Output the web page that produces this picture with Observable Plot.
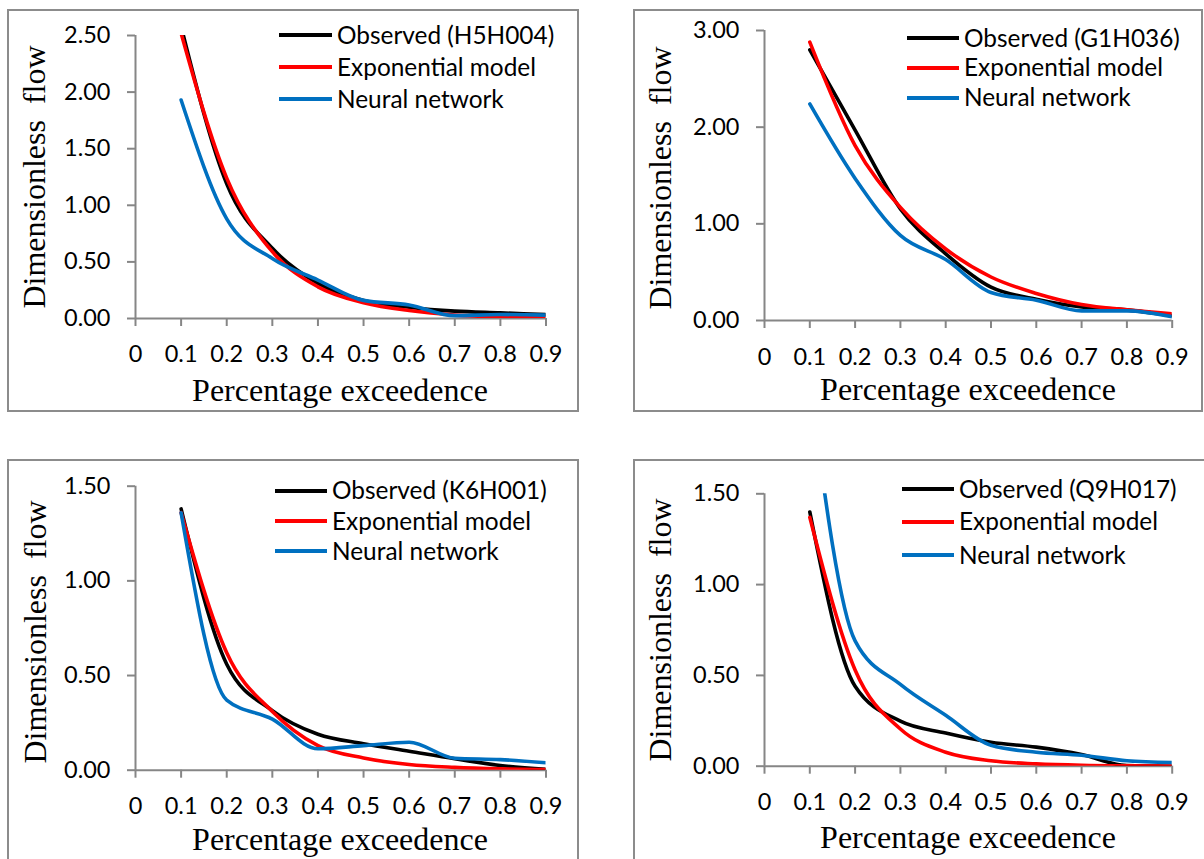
<!DOCTYPE html>
<html><head><meta charset="utf-8">
<script src="https://cdn.jsdelivr.net/npm/d3@7"></script>
<script src="https://cdn.jsdelivr.net/npm/@observablehq/plot@0.6"></script>
<style>
html,body{margin:0;padding:0;background:#fff;}
#page{position:relative;width:1204px;height:859px;overflow:hidden;background:#fff;}
.panel{position:absolute;border:2px solid #8c8c8c;box-sizing:border-box;}
.wrap{position:absolute;}
.wrap svg{display:block;overflow:visible;}
.lrow{position:absolute;display:flex;align-items:center;height:30px;margin-top:-15px;white-space:nowrap;}
.lrow .sw{height:4px;}
.lrow span{font-family:Lato,"Open Sans",sans-serif;font-size:24.4px;line-height:1;margin-left:5px;color:#000;}
#titles{position:absolute;left:0;top:0;}
</style></head><body><div id="page"></div>
<script>
// ---------- data ----------
const xs = [0.1, 0.2, 0.3, 0.4, 0.5, 0.6, 0.7, 0.8, 0.9];
const xTicks = [0, 0.1, 0.2, 0.3, 0.4, 0.5, 0.6, 0.7, 0.8, 0.9];
const xTickLabels = ["0", "0.1", "0.2", "0.3", "0.4", "0.5", "0.6", "0.7", "0.8", "0.9"];
const seriesNames = ["Observed", "Exponential model", "Neural network"];
const stations = ["H5H004", "G1H036", "K6H001", "Q9H017"];

// H5H004
const obsH5H004 = [2.58, 1.19, 0.62, 0.31, 0.16, 0.10, 0.065, 0.05, 0.035];
const expH5H004 = [2.52, 1.24, 0.59, 0.28, 0.14, 0.07, 0.03, 0.015, 0.01];
const annH5H004 = [1.93, 0.88, 0.53, 0.34, 0.16, 0.12, 0.025, 0.035, 0.03];
// G1H036
const obsG1H036 = [2.80, 1.97, 1.155, 0.69, 0.345, 0.22, 0.14, 0.11, 0.05];
const expG1H036 = [2.88, 1.81, 1.17, 0.74, 0.45, 0.28, 0.165, 0.11, 0.07];
const annG1H036 = [2.24, 1.47, 0.88, 0.63, 0.29, 0.21, 0.10, 0.10, 0.04];
// K6H001
const obsK6H001 = [1.38, 0.56, 0.315, 0.19, 0.14, 0.10, 0.06, 0.025, 0.005];
const expK6H001 = [1.36, 0.62, 0.31, 0.13, 0.065, 0.03, 0.015, 0.007, 0.003];
const annK6H001 = [1.36, 0.37, 0.27, 0.113, 0.13, 0.148, 0.063, 0.056, 0.039];
// Q9H017
const obsQ9H017 = [1.40, 0.44, 0.248, 0.183, 0.132, 0.105, 0.064, 0.003, 0.0];
const expQ9H017 = [1.37, 0.53, 0.205, 0.077, 0.03, 0.013, 0.005, 0.002, 0.001];
const annQ9H017 = [2.10, 0.69, 0.45, 0.28, 0.115, 0.077, 0.06, 0.03, 0.02];

const yTicks2_5 = [0, 0.5, 1.0, 1.5, 2.0, 2.5];
const yTicks3 = [0, 1, 2, 3];
const yTicks1_5 = [0, 0.5, 1.0, 1.5];

const xTitle = "Percentage exceedence";
const yTitle = "Dimensionless  flow";

// ---------- styles / layout ----------
const colors = ["#000000", "#ff0000", "#0070c0"];
const axisGray = "#868686";

const panels = [
  {station: "H5H004", obs: obsH5H004, exp: expH5H004, ann: annH5H004, yMax: 2.5, yTicks: yTicks2_5,
   box: [7, 9, 572, 403], svg: [0, 0, 600, 430], m: [35, 54.5, 112, 135], xPad: 19,
   legend: {x0: 279, x1: 332, rows: [35, 67, 99]},
   xt: [340, 400.5], yt: [45, 177]},
  {station: "G1H036", obs: obsG1H036, exp: expG1H036, ann: annG1H036, yMax: 3, yTicks: yTicks3,
   box: [633, 9, 570, 403], svg: [602, 0, 602, 430], m: [30, 32.3, 110, 162], xPad: 20,
   legend: {x0: 907, x1: 959, rows: [38, 67.5, 97.5]},
   xt: [968, 400], yt: [671, 178]},
  {station: "K6H001", obs: obsK6H001, exp: expK6H001, ann: annK6H001, yMax: 1.5, yTicks: yTicks1_5,
   box: [7, 459, 572, 430], svg: [0, 440, 600, 419], m: [45.7, 54.5, 89.3, 135], xPad: 19.5,
   legend: {x0: 275, x1: 327, rows: [490.5, 521, 551]},
   xt: [340, 850], yt: [46, 632]},
  {station: "Q9H017", obs: obsQ9H017, exp: expQ9H017, ann: annQ9H017, yMax: 1.5, yTicks: yTicks1_5,
   box: [633, 459, 600, 430], svg: [602, 440, 602, 419], m: [53.3, 32.3, 93.3, 162], xPad: 19,
   legend: {x0: 902, x1: 954, rows: [489, 521.5, 555]},
   xt: [968, 848], yt: [671, 630]}
];

const page = document.getElementById("page");

function rows(ys) { return xs.map((x, i) => ({x, y: ys[i]})); }

panels.forEach(p => {
  const b = document.createElement("div");
  b.className = "panel";
  Object.assign(b.style, {left: p.box[0] + "px", top: p.box[1] + "px", width: p.box[2] + "px", height: p.box[3] + "px"});
  page.appendChild(b);

  const lineOpts = (c) => ({x: "x", y: "y", stroke: c, strokeWidth: 3.6, curve: "monotone-x", clip: true, strokeLinecap: "round", strokeLinejoin: "round"});
  const chart = Plot.plot({
    width: p.svg[2], height: p.svg[3],
    marginTop: p.m[0], marginRight: p.m[1], marginBottom: p.m[2], marginLeft: p.m[3],
    style: {fontFamily: "Lato, 'Open Sans', sans-serif", fontSize: "23.5px", color: "#000", background: "transparent", maxWidth: "none", overflow: "visible"},
    x: {domain: [0, 0.9]},
    y: {domain: [0, p.yMax]},
    marks: [
      Plot.axisX({ticks: xTicks, tickSize: 8, tickPadding: p.xPad, tickFormat: (d) => xTickLabels[xTicks.indexOf(d)], stroke: axisGray, strokeWidth: 2, fill: "#000", label: null}),
      Plot.axisY({ticks: p.yTicks, tickSize: 8, tickPadding: 17, tickFormat: d3.format(".2f"), stroke: axisGray, strokeWidth: 2, fill: "#000", label: null}),
      Plot.ruleX([0], {stroke: axisGray, strokeWidth: 2}),
      Plot.ruleY([0], {stroke: axisGray, strokeWidth: 2}),
      Plot.line(rows(p.obs), lineOpts(colors[0])),
      Plot.line(rows(p.exp), lineOpts(colors[1])),
      Plot.line(rows(p.ann), lineOpts(colors[2]))
    ]
  });
  const w = document.createElement("div");
  w.className = "wrap";
  Object.assign(w.style, {left: p.svg[0] + "px", top: p.svg[1] + "px", width: p.svg[2] + "px", height: p.svg[3] + "px"});
  w.appendChild(chart);
  page.appendChild(w);

  // legend
  const labels = [`Observed (${p.station})`, seriesNames[1], seriesNames[2]];
  labels.forEach((t, i) => {
    const r = document.createElement("div");
    r.className = "lrow";
    r.style.left = p.legend.x0 + "px";
    r.style.top = p.legend.rows[i] + "px";
    const sw = document.createElement("div");
    sw.className = "sw";
    sw.style.width = (p.legend.x1 - p.legend.x0) + "px";
    sw.style.background = colors[i];
    const s = document.createElement("span");
    s.textContent = t;
    r.appendChild(sw); r.appendChild(s);
    page.appendChild(r);
  });
});

// axis titles
const svg = d3.select(page).append("svg").attr("id", "titles").attr("width", 1204).attr("height", 859);
panels.forEach(p => {
  svg.append("text").attr("x", p.xt[0]).attr("y", p.xt[1]).attr("text-anchor", "middle")
    .style("font-family", "'Liberation Serif', 'Times New Roman', serif").style("font-size", "32px").text(xTitle);
  svg.append("text").attr("transform", `translate(${p.yt[0]},${p.yt[1]}) rotate(-90)`).attr("text-anchor", "middle")
    .style("font-family", "'Liberation Serif', 'Times New Roman', serif").style("font-size", "32px").style("white-space", "pre").text(yTitle);
});
</script>
</body></html>
